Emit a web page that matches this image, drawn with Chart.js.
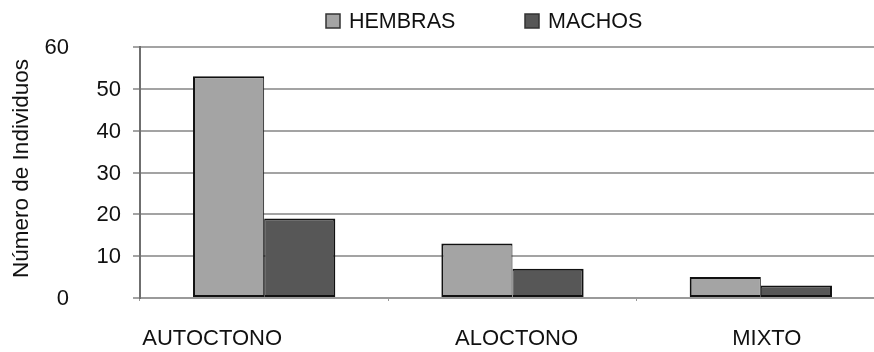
<!DOCTYPE html>
<html>
<head>
<meta charset="utf-8">
<script src="https://cdn.jsdelivr.net/npm/chart.js@4"></script>
<style>
  html, body { margin: 0; padding: 0; background: #fff; overflow: hidden; }
  #wrap { position: relative; width: 885px; height: 352px; }
</style>
</head>
<body>
<div id="wrap"><canvas id="c"></canvas></div>
<script>
// Data
const categories = ['AUTOCTONO', 'ALOCTONO', 'MIXTO'];
const seriesNames = ['HEMBRAS', 'MACHOS'];
const hembras = [53, 13, 5];
const machos = [19, 7, 3];
const yTickValues = [0, 10, 20, 30, 40, 50, 60];
const yTitle = 'Número de Individuos';

// Styles
const FONT = '"Liberation Sans", Arial, Helvetica, sans-serif';
const colors = ['#a4a4a4', '#575757'];
const textColor = '#111';
const yLabelShift = { 0: -52, 60: -52 };
const xLabelShift = [-52, 4, 6];

// Draws the legend, axis title, tick labels and category labels as text
const textLayer = {
  id: 'textLayer',
  afterDraw(chart) {
    const { ctx, scales: { x, y } } = chart;
    ctx.save();
    ctx.fillStyle = textColor;

    // y tick labels
    ctx.font = '22px ' + FONT;
    ctx.textAlign = 'right';
    ctx.textBaseline = 'middle';
    yTickValues.forEach(v => {
      const dx = yLabelShift[v] || 0;
      ctx.fillText(String(v), y.right - 19 + dx, y.getPixelForValue(v) + 1);
    });

    // y axis title
    ctx.save();
    ctx.translate(22, (y.top + y.bottom) / 2 - 4);
    ctx.rotate(-Math.PI / 2);
    ctx.textAlign = 'center';
    ctx.font = '22.5px ' + FONT;
    ctx.fillText(yTitle, 0, 0);
    ctx.restore();

    // category labels
    ctx.font = '22px ' + FONT;
    ctx.textAlign = 'center';
    categories.forEach((c, i) => {
      ctx.fillText(c, x.getPixelForValue(i) + xLabelShift[i], x.top + 41);
    });

    // legend
    ctx.font = '21.5px ' + FONT;
    ctx.textAlign = 'left';
    const starts = [326, 525];
    chart.data.datasets.forEach((ds, i) => {
      const bx = starts[i];
      ctx.fillStyle = ds.backgroundColor;
      ctx.strokeStyle = '#333';
      ctx.lineWidth = 1.5;
      ctx.fillRect(bx, 14, 14, 14);
      ctx.strokeRect(bx, 14, 14, 14);
      ctx.fillStyle = textColor;
      ctx.fillText(ds.label, bx + 23, 22);
    });
    ctx.restore();
  }
};

new Chart(document.getElementById('c'), {
  type: 'bar',
  data: {
    labels: categories,
    datasets: [
      { label: seriesNames[0], data: hembras, backgroundColor: colors[0],
        borderWidth: { top: 2, left: 2, bottom: 2, right: 1 } },
      { label: seriesNames[1], data: machos, backgroundColor: colors[1],
        borderWidth: { top: 2, left: 1, bottom: 2, right: 2 } }
    ]
  },
  options: {
    responsive: true,
    maintainAspectRatio: false,
    animation: false,
    layout: { padding: { top: 47, left: 0, right: 0, bottom: 0 } },
    datasets: {
      bar: {
        categoryPercentage: 0.573,
        barPercentage: 1.0,
        borderColor: '#111',
        borderSkipped: false
      }
    },
    plugins: {
      legend: { display: false },
      tooltip: { enabled: false }
    },
    scales: {
      x: {
        offset: true,
        ticks: { display: false },
        grid: {
          offset: true,
          drawOnChartArea: false,
          drawTicks: true,
          tickLength: 3,
          color: '#999',
          lineWidth: 1
        },
        border: { display: true, color: '#9a9a9a', width: 2 },
        afterFit(s) { s.height = 54; }
      },
      y: {
        min: 0,
        max: 60,
        afterBuildTicks(s) { s.ticks = yTickValues.map(v => ({ value: v })); },
        ticks: { display: false },
        grid: {
          color: '#a3a3a3',
          lineWidth: 2,
          drawTicks: true,
          tickLength: 7
        },
        border: { display: true, color: '#6f6f6f', width: 2 },
        title: { display: false },
        afterFit(s) { s.width = 140; }
      }
    }
  },
  plugins: [textLayer]
});
</script>
</body>
</html>
